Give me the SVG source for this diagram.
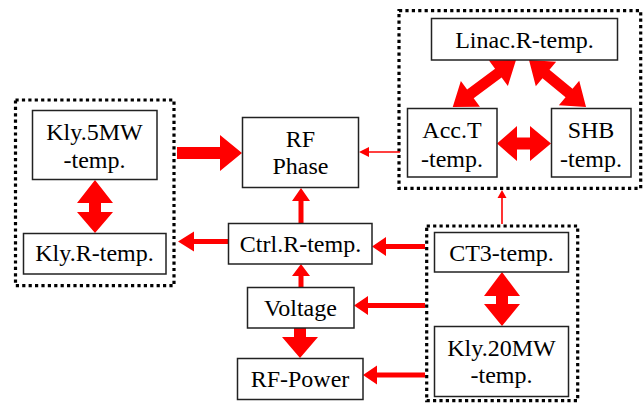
<svg xmlns="http://www.w3.org/2000/svg" width="643" height="405" viewBox="0 0 643 405">
  <defs>
    <style>
      .box { fill: #ffffff; stroke: #222222; stroke-width: 1.5; }
      .frame { fill: none; stroke: #000000; stroke-width: 3.2; stroke-dasharray: 3.2 3.2; }
      .arr { fill: #ff0000; stroke: none; }
      .thin { stroke: #ff0000; stroke-width: 1.6; fill: none; }
      text { font-family: "Liberation Serif", "Times New Roman", serif; font-size: 24px; fill: #000000; text-anchor: middle; }
    </style>
  </defs>
  <rect width="643" height="405" fill="#ffffff"/>

  <g id="frames">
    <rect class="frame" x="15.5" y="100" width="158.5" height="185.7"/>
    <rect class="frame" x="399" y="10.7" width="241.7" height="177.6"/>
    <rect class="frame" x="426.7" y="226" width="151" height="174.7"/>
  </g>

  <g id="connectors">
    <!-- Kly.5MW -> RF Phase -->
    <polygon class="arr" points="177,147 220,147 220,135 242,153 220,171 220,159 177,159"/>
    <!-- Kly.5MW <-> Kly.R -->
    <polygon class="arr" points="95,180 113,203 101,203 101,212 113,212 95,233 77,212 89,212 89,203 77,203"/>
    <!-- CT3 <-> Kly.20MW -->
    <polygon class="arr" points="502,272 520,296 508,296 508,304 520,304 502,326 484,304 496,304 496,296 484,296"/>
    <!-- Acc.T <-> SHB -->
    <polygon class="arr" points="497,143.5 517,126 517,137.5 530,137.5 530,126 551,143.5 530,161 530,149.5 517,149.5 517,161"/>
    <!-- Linac <-> Acc.T -->
    <polygon class="arr" transform="translate(516,60) rotate(143.4)" points="0,0 22,-16 22,-5.5 56.8,-5.5 56.8,-16 78.8,0 56.8,16 56.8,5.5 22,5.5 22,16"/>
    <!-- Linac <-> SHB -->
    <polygon class="arr" transform="translate(529,60) rotate(39.5)" points="0,0 22,-16 22,-5.5 51.9,-5.5 51.9,-16 73.9,0 51.9,16 51.9,5.5 22,5.5 22,16"/>
    <!-- Voltage -> RF-Power -->
    <polygon class="arr" points="294,328 306,328 306,337 318,337 300,358 282,337 294,337"/>
    <!-- Ctrl.R -> Kly.R -->
    <polygon class="arr" points="228.5,239 194,239 194,231.5 178,241.5 194,251.5 194,244 228.5,244"/>
    <!-- CT3 frame -> Ctrl.R -->
    <polygon class="arr" points="425,244 386,244 386,237 372,246.5 386,256 386,249 425,249"/>
    <!-- CT3 frame -> Voltage -->
    <polygon class="arr" points="425,303 368,303 368,296 354,305.5 368,315 368,308 425,308"/>
    <!-- CT3 frame -> RF-Power -->
    <polygon class="arr" points="425,372.5 377,372.5 377,365.5 363,375 377,384.5 377,377.5 425,377.5"/>
    <!-- Ctrl.R -> RF Phase -->
    <polygon class="arr" points="298.5,223 298.5,201 292,201 301,188 310,201 303.5,201 303.5,223"/>
    <!-- Voltage -> Ctrl.R -->
    <polygon class="arr" points="298.5,287 298.5,276 292,276 301,264 310,276 303.5,276 303.5,287"/>
    <!-- Acc.T frame -> RF Phase (thin) -->
    <line class="thin" x1="400" y1="152" x2="367" y2="152"/>
    <polygon class="arr" points="359,152 369,147 369,157"/>
    <!-- CT3 frame -> upper frame (thin) -->
    <line class="thin" x1="502" y1="224" x2="502" y2="196"/>
    <polygon class="arr" points="502,190 497.5,198 506.5,198"/>
  </g>

  <g id="kly5mw">
    <rect class="box" x="32.5" y="110.5" width="124.5" height="69"/>
    <text x="94.5" y="139.5">Kly.5MW</text>
    <text x="94.5" y="167.5">-temp.</text>
  </g>
  <g id="klyr">
    <rect class="box" x="23.5" y="233.5" width="142.5" height="40.5"/>
    <text x="94.5" y="261">Kly.R-temp.</text>
  </g>
  <g id="rfphase">
    <rect class="box" x="242.5" y="117.5" width="116" height="70"/>
    <text x="300.5" y="146.5">RF</text>
    <text x="300.5" y="174">Phase</text>
  </g>
  <g id="ctrlr">
    <rect class="box" x="228.5" y="223.5" width="143.5" height="40.5"/>
    <text x="300.5" y="251.7">Ctrl.R-temp.</text>
  </g>
  <g id="voltage">
    <rect class="box" x="247.5" y="287.5" width="106.5" height="40.5"/>
    <text x="300.5" y="315.7">Voltage</text>
  </g>
  <g id="rfpower">
    <rect class="box" x="237.5" y="358.5" width="125.5" height="41"/>
    <text x="300" y="387.3">RF-Power</text>
  </g>
  <g id="ct3">
    <rect class="box" x="434.5" y="232.5" width="134" height="39.5"/>
    <text x="501.5" y="260.7">CT3-temp.</text>
  </g>
  <g id="kly20mw">
    <rect class="box" x="434.5" y="326.5" width="134" height="70"/>
    <text x="501.5" y="355.7">Kly.20MW</text>
    <text x="501.5" y="383.3">-temp.</text>
  </g>
  <g id="linac">
    <rect class="box" x="431.5" y="18.5" width="186" height="41.5"/>
    <text x="524.5" y="47.7">Linac.R-temp.</text>
  </g>
  <g id="acct">
    <rect class="box" x="407.5" y="108.5" width="89.5" height="68.5"/>
    <text x="452" y="137.7">Acc.T</text>
    <text x="452" y="166.7">-temp.</text>
  </g>
  <g id="shb">
    <rect class="box" x="551.5" y="108.5" width="79.5" height="68.5"/>
    <text x="591" y="137.7">SHB</text>
    <text x="591" y="166.7">-temp.</text>
  </g>
</svg>
